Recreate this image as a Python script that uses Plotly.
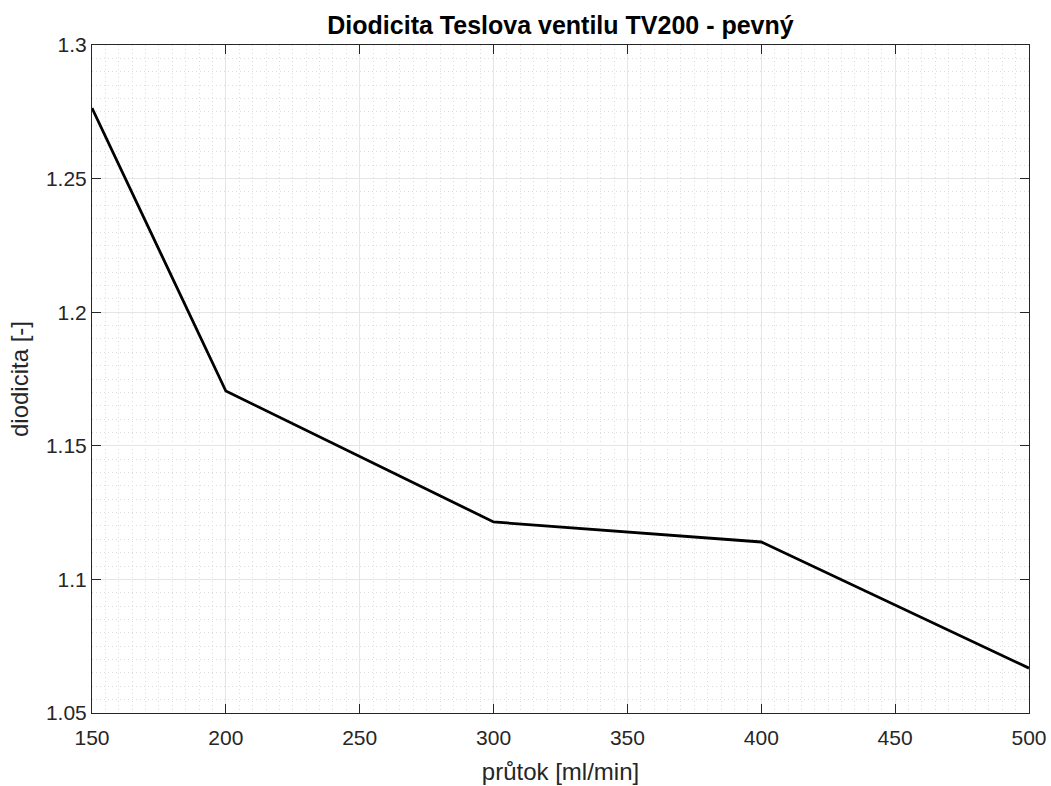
import plotly.graph_objects as go

# flow rate [ml/min] and measured diodicity
prutok = [150, 200, 300, 400, 500]
diodicita = [1.2764, 1.1705, 1.1215, 1.1140, 1.0668]

x_ticks = [150, 200, 250, 300, 350, 400, 450, 500]
y_ticks = [1.05, 1.1, 1.15, 1.2, 1.25, 1.3]
y_tick_text = ["1.05", "1.1", "1.15", "1.2", "1.25", "1.3"]

font_family = "Liberation Sans, Arial, sans-serif"

fig = go.Figure()
fig.add_trace(go.Scatter(
    x=prutok, y=diodicita, mode="lines",
    line=dict(color="black", width=2.8),
    showlegend=False,
))

axis_common = dict(
    showline=True, linecolor="#262626", linewidth=1, mirror="ticks",
    ticks="inside", ticklen=9, tickcolor="#262626", tickwidth=1,
    showgrid=True, gridcolor="#e6e6e6", gridwidth=1,
    zeroline=False, automargin=False,
    tickfont=dict(family=font_family, size=21, color="#262626"),
    minor=dict(showgrid=True, gridcolor="#dcdcdc", griddash="1px,3px",
               gridwidth=1, ticks=""),
)

fig.update_layout(
    width=1051, height=786,
    margin=dict(l=92, r=22, t=45, b=73),
    paper_bgcolor="white", plot_bgcolor="white",
    title=dict(text="<b>Diodicita Teslova ventilu TV200 - pevný</b>",
               x=0.5, xanchor="center", xref="paper",
               y=1 - 25 / 786, yanchor="middle",
               font=dict(family=font_family, size=25, color="black")),
    xaxis=dict(range=[150, 500], tickvals=x_ticks, ticklabelstandoff=6,
               title=dict(text="průtok [ml/min]", standoff=14,
                          font=dict(family=font_family, size=24, color="#262626")),
               **axis_common),
    yaxis=dict(range=[1.05, 1.3], tickvals=y_ticks, ticktext=y_tick_text,
               title=dict(text="diodicita [-]", standoff=10,
                          font=dict(family=font_family, size=24, color="#262626")),
               **axis_common),
)
fig.update_xaxes(minor=dict(dtick=5, tick0=150))
fig.update_yaxes(minor=dict(dtick=0.005, tick0=1.05))

fig.write_html("out.html")
